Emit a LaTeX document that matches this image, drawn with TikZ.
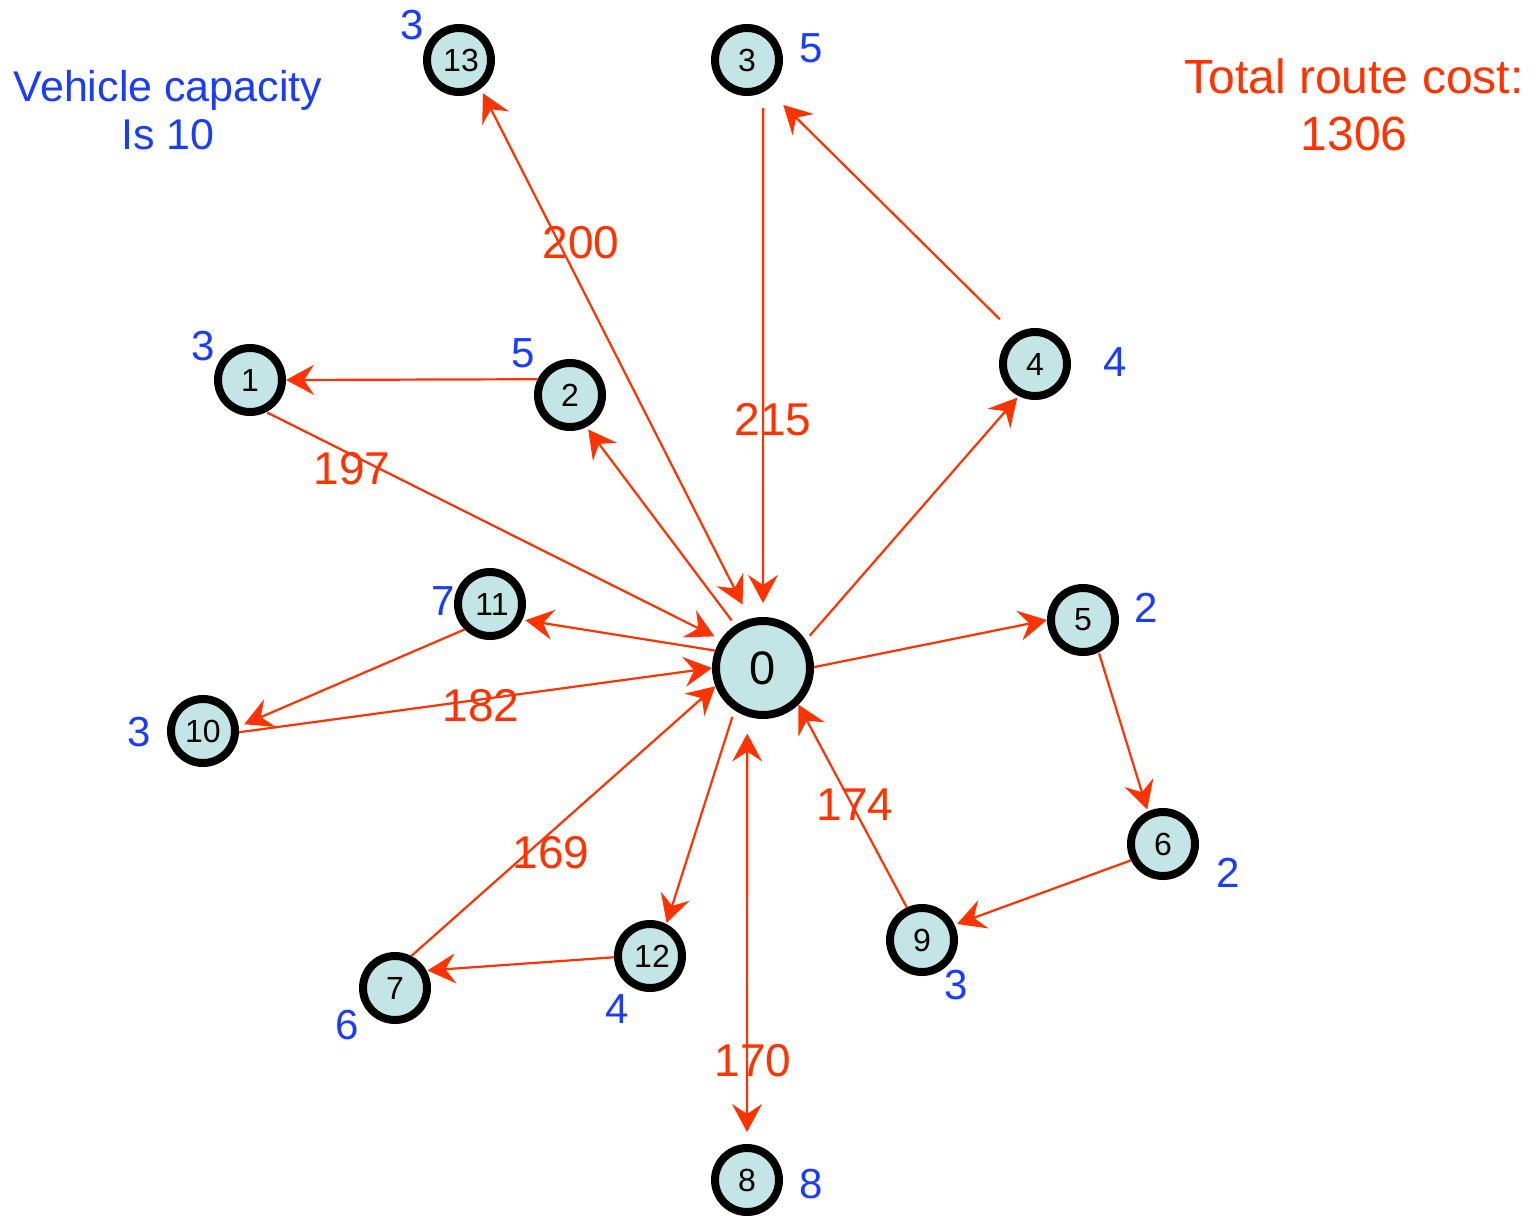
\documentclass[tikz,border=0pt]{standalone}
\usepackage{fontspec}
\setmainfont{Liberation Sans}
\usetikzlibrary{arrows.meta}
\definecolor{edgered}{RGB}{255,51,0}
\definecolor{demblue}{RGB}{26,60,255}
\definecolor{nodefill}{RGB}{196,229,230}
\begin{document}
\begin{tikzpicture}[x=1pt,y=-1pt,
  >={Stealth[length=28pt,width=30pt,inset=10pt]},
  cust/.style={circle, draw=black, line width=8pt, fill=nodefill, minimum size=64pt, inner sep=0pt, font=\fontsize{32}{32}\selectfont},
  depot/.style={cust, minimum size=94pt, font=\fontsize{47}{47}\selectfont},
  route/.style={draw=edgered, line width=2.2pt},
  cost/.style={text=edgered, inner sep=0pt, font=\fontsize{46}{46}\selectfont},
  dem/.style={text=demblue, inner sep=0pt, font=\fontsize{42}{42}\selectfont}]
\useasboundingbox (0,0) rectangle (1536,1215);
\fill[white] (0,0) rectangle (1536,1215);

% customers and depot
\node[depot] (n0) at (763,668) {0};
\node[cust] (n13) at (459,60) {\hspace{4pt}13};
\node[cust] (n3) at (747,60) {3};
\node[cust] (n1) at (250,380) {1};
\node[cust] (n2) at (570,395) {2};
\node[cust] (n4) at (1035,364) {4};
\node[cust] (n11) at (490,604) {\hspace{4pt}11};
\node[cust] (n10) at (203,731) {10};
\node[cust] (n5) at (1083,620) {5};
\node[cust] (n6) at (1163,844) {6};
\node[cust] (n9) at (922,940) {9};
\node[cust] (n12) at (650,956) {\hspace{4pt}12};
\node[cust] (n7) at (395,988) {7};
\node[cust] (n8) at (747,1180) {8};

% routes
\draw[route,<->,shorten <=5pt,shorten >=16pt] (n13.-53) -- (n0.105);
\draw[route,->,shorten <=16pt,shorten >=14pt] (n3.-63.6) -- (n0.north);
\draw[route,->,shorten <=21pt,shorten >=22pt] (n4.124) -- (n3.-55);
\draw[route,->,shorten <=6pt,shorten >=2pt] (n0.33) -- (n4.-117);
\draw[route,->,shorten <=6pt,shorten >=3pt] (n0.123) -- (n2.-63);
\draw[route,->] (n2.154) -- (n1.east);
\draw[route,->,shorten <=1pt,shorten >=7pt] (n1.-63) -- (n0.146);
\draw[route,->,shorten >=3pt] (n0.160) -- (n11.-26);
\draw[route,->,shorten >=6pt] (n11.-135) -- (n10.7);
\draw[route,->] (n10.-2) -- (n0.180);
\draw[route,->] (n0.1) -- (n5.180);
\draw[route,->,shorten <=1pt,shorten >=2pt] (n5.-64) -- (n6.115);
\draw[route,->,shorten >=2.5pt] (n6.207) -- (n9.25);
\draw[route,->] (n9.115) -- (n0.-46);
\draw[route,->,shorten <=7pt,shorten >=1pt] (n0.-124) -- (n12.63);
\draw[route,->,shorten >=1pt] (n12.182) -- (n7.29);
\draw[route,->] (n7.63) -- (n0.-159);
\draw[route,<->,shorten <=17pt,shorten >=12pt] (n0.-108.3) -- (n8.north);

% route costs
\node[cost] (c200) at (581,243) {200};
\node[cost] (c215) at (773,420) {215};
\node[cost] (c197) at (352,469) {197};
\node[cost] (c182) at (481,706) {182};
\node[cost] (c169) at (551,853) {169};
\node[cost] (c174) at (855,805) {174};
\node[cost] (c170) at (753,1061) {170};

% demands
\node[dem] (d13) at (412,25) {3};
\node[dem] (d3) at (811,48) {5};
\node[dem] (d1) at (203,346) {3};
\node[dem] (d2) at (523,353) {5};
\node[dem] (d4) at (1115,362) {4};
\node[dem] (d11) at (443,601) {7};
\node[dem] (d10) at (139,732) {3};
\node[dem] (d5) at (1146,608) {2};
\node[dem] (d6) at (1228,873) {2};
\node[dem] (d9) at (956,985) {3};
\node[dem] (d12) at (617,1009) {4};
\node[dem] (d7) at (347,1025) {6};
\node[dem] (d8) at (811,1184) {8};

% notes
\node[text=demblue, inner sep=0pt, align=center, font=\fontsize{43}{48.3}\selectfont] (capacity) at (168,110) {Vehicle capacity\\Is 10};
\node[text=edgered, inner sep=0pt, align=center, font=\fontsize{48}{57}\selectfont] (total) at (1354,105) {Total route cost:\\1306};
\end{tikzpicture}
\end{document}
